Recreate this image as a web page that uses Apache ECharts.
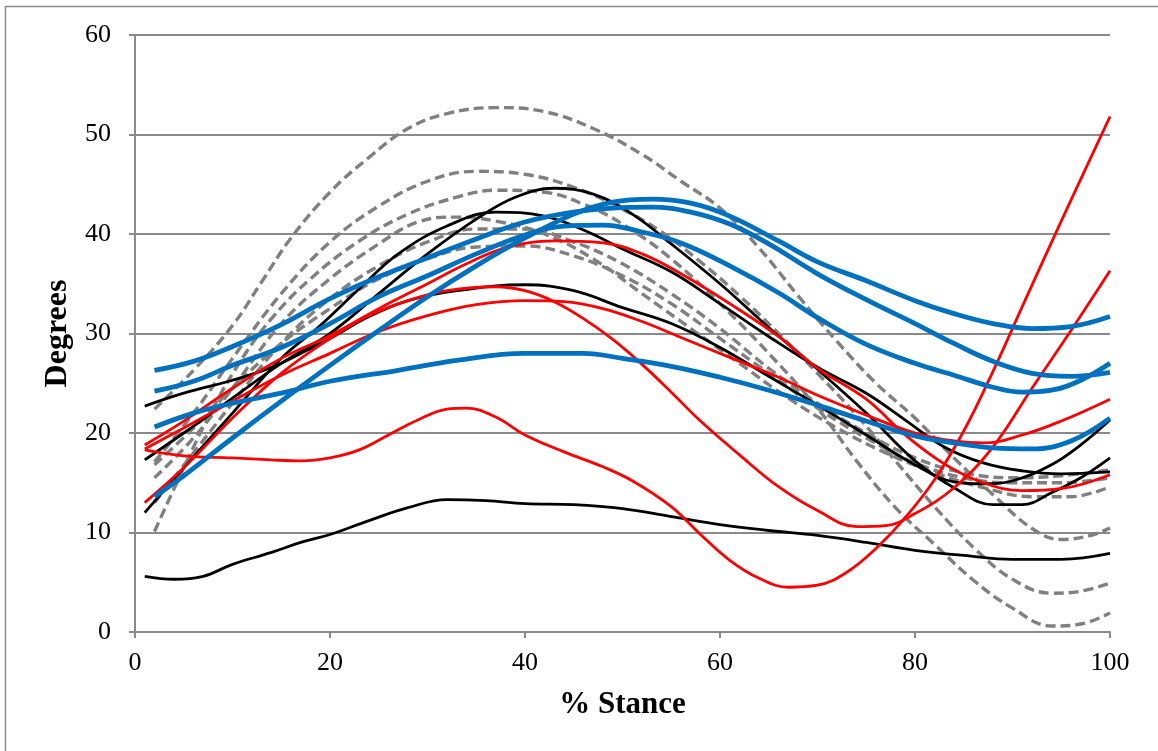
<!DOCTYPE html>
<html>
<head>
<meta charset="utf-8">
<script src="https://cdn.jsdelivr.net/npm/echarts@6/dist/echarts.min.js"></script>
<style>
html,body{margin:0;padding:0;background:#fff;}
#chart{width:1158px;height:751px;}
</style>
</head>
<body>
<div id="chart"></div>
<script>
// ---- axis ticks ----
const xTicks = [0, 20, 40, 60, 80, 100];
const yTicks = [0, 10, 20, 30, 40, 50, 60];

// ---- gray dashed series: [% stance, degrees] ----
const gray1 = [[2,22.4],[6,26.3],[10,30.8],[13,35.2],[16,39.6],[20,44.2],[24,47.7],[28,50.6],[32,52.1],[37,52.7],[42,52.3],[47,50.6],[52,48],[56,45.3],[60,42.6],[64,38.6],[68,33.8],[72,29.2],[76,25],[80,21.5],[84,17.5],[88,13.8],[92,10.4],[95,9.3],[98,9.7],[100,10.45]];
const gray2 = [[2,17.1],[6,22],[10,27.5],[15,34],[20,39.2],[25,42.8],[30,45.3],[35,46.3],[40,46],[45,44.7],[50,42.5],[54,40.2],[58,37.2],[62,33.8],[66,30],[70,26],[74,21.8],[78,17.2],[82,12.6],[86,8.5],[90,5.3],[94,3.9],[97,4.1],[100,4.9]];
const gray3 = [[2,10.1],[5,16.5],[8,22.5],[11,27.5],[14,31.5],[18,35.5],[23,39.3],[28,42],[33,43.7],[37,44.4],[42,44.2],[46,43],[50,41],[55,37.5],[60,33],[65,28],[70,22.5],[74,17.2],[78,12.5],[82,8.8],[86,5.2],[90,2.4],[94,0.6],[97,0.8],[100,1.9]];
const gray4 = [[2,15.5],[6,19.5],[10,24.5],[15,31],[20,35.5],[25,39],[29,41.2],[33,41.7],[37,41.3],[42,40],[47,37.5],[52,34],[57,30.5],[62,27],[67,23.5],[72,20.5],[77,18],[82,16],[87,14.5],[92,13.6],[96,13.6],[100,14.6]];
const gray5 = [[2,13],[6,18],[10,23],[15,29],[20,33.5],[25,36.8],[30,39.2],[35,40.5],[40,40.5],[45,39.2],[50,37],[55,34],[60,30.5],[65,26.5],[70,23],[75,20],[80,17.5],[85,16],[90,15.5],[95,15.7],[100,16.3]];
const gray6 = [[2,16.8],[6,20.5],[10,24.5],[15,29],[20,32.5],[25,35.5],[30,37.5],[35,38.7],[40,38.8],[45,37.8],[50,35.8],[55,33],[60,29.5],[65,26],[70,22.5],[75,19.5],[80,17],[85,15.5],[90,15],[95,15],[100,15.5]];

// ---- black series ----
const black1 = [[1,5.6],[4,5.3],[7,5.6],[10,6.8],[14,8],[17,9],[20,9.8],[24,11.2],[28,12.5],[32,13.3],[36,13.2],[40,12.9],[45,12.8],[50,12.4],[55,11.6],[60,10.8],[65,10.2],[70,9.7],[75,9],[80,8.2],[85,7.7],[90,7.3],[95,7.3],[100,7.9]];
const black2 = [[1,12],[5,16.5],[10,22],[15,27.5],[19,30.8],[23,34.5],[27,38],[32,40.8],[37,42.2],[42,41.8],[46,40.4],[50,38.5],[55,36.2],[60,33],[65,29.7],[70,26.6],[75,24],[79,21.3],[83,18.6],[87,17],[91,16.2],[95,15.9],[100,16.1]];
const black3 = [[1,17.3],[5,20],[10,23.5],[15,27],[20,30],[25,34],[30,38],[35,41.5],[39,43.7],[43,44.6],[47,44],[51,42],[55,39],[60,35],[65,30.6],[70,26.4],[75,22],[80,17.2],[84,14.5],[88,12.8],[91,12.8],[94,14],[97,15.5],[100,17.5]];
const black4 = [[1,22.7],[5,24],[10,25.3],[14,26.6],[17,28],[20,29.5],[24,31.7],[28,33.3],[33,34.3],[40,34.9],[45,34.3],[50,32.6],[55,31],[60,28.6],[65,25.7],[70,22.8],[75,19.8],[80,16.8],[84,15.1],[87,14.9],[90,15.2],[94,16.8],[97,18.8],[100,21.3]];

// ---- red series ----
const red1 = [[1,18.8],[5,21.2],[10,24.5],[15,27.5],[20,29.8],[25,32.5],[30,35],[34,37],[38,38.6],[43,39.3],[48,39.1],[52,38],[56,36],[61,33],[66,29.7],[70,26.5],[75,23.4],[79,19.8],[83,16.9],[87,15],[91,14.2],[95,14.4],[100,15.8]];
const red2 = [[1,13],[5,16.5],[10,21.5],[15,26],[20,29.5],[24,31.8],[28,33.3],[32,34.3],[37,34.7],[40,34.3],[43,33.2],[46,31.5],[49,29.4],[52,26.9],[55,24.1],[58,21.2],[62,17.8],[66,14.6],[70,12.2],[74,10.6],[77,10.7],[80,11.9],[84,14.5],[88,18.6],[92,24.5],[96,30.3],[100,36.3]];
const red3 = [[1,18.4],[5,20.5],[10,23.2],[15,25.8],[20,28],[25,30.2],[30,31.8],[35,32.9],[40,33.3],[44,33.2],[48,32.5],[52,31.2],[56,29.6],[61,27.6],[66,25.6],[70,23.8],[75,21.8],[80,20],[84,19.2],[87,19],[91,19.8],[95,21.2],[100,23.4]];
const red4 = [[1,18.3],[5,17.7],[10,17.5],[14,17.3],[17,17.2],[20,17.5],[23,18.3],[26,19.8],[29,21.3],[32,22.4],[34,22.5],[37,21.6],[40,19.8],[44,18.1],[48,16.6],[51,15.2],[55,12.6],[58,9.8],[61,7.2],[64,5.4],[67,4.5],[70,4.7],[73,6],[76,8.4],[79,11.5],[82,15.3],[85,20.2],[88,26.2],[91,32.7],[95,41.3],[100,51.8]];

// ---- blue series ----
const blue1 = [[2,26.3],[6,27.2],[10,28.7],[15,30.9],[20,33.5],[25,35.7],[30,37.6],[35,39.5],[40,41.2],[45,42.2],[49,42.6],[53,42.7],[57,42.2],[61,41],[65,39],[70,36],[75,33.4],[80,31],[84,29],[88,27.2],[92,26],[96,25.7],[100,26.1]];
const blue2 = [[2,24.2],[6,25.2],[10,26.8],[15,28.6],[20,31],[25,33.7],[30,35.8],[35,38],[40,39.9],[44,40.8],[48,40.9],[52,40.2],[56,39.1],[61,36.8],[66,34.1],[70,31.6],[75,28.9],[80,27],[84,25.8],[88,24.6],[91,24.1],[94,24.3],[97,25.3],[100,27]];
const blue3 = [[2,20.6],[6,22],[10,23],[15,24],[20,25.2],[27,26.3],[33,27.3],[40,28],[46,28],[50,27.5],[55,26.7],[60,25.6],[65,24.3],[70,22.8],[75,21.2],[80,19.7],[84,19],[88,18.5],[92,18.4],[96,19.2],[100,21.5]];
const blue4 = [[2,13.6],[5,15.7],[10,19.5],[15,23.2],[20,26.8],[25,30.3],[30,33.7],[35,36.8],[40,39.6],[45,42],[49,43.2],[53,43.5],[57,43.1],[61,41.8],[66,39.3],[70,37.2],[75,35.3],[80,33.3],[84,32],[88,31],[92,30.5],[96,30.7],[100,31.7]];

const grays = [gray1, gray2, gray3, gray4, gray5, gray6];
const blacks = [black1, black2, black3, black4];
const reds = [red1, red2, red3, red4];
const blues = [blue1, blue2, blue3, blue4];

const series = [];
function add(list, color, width, type) {
  list.forEach(d => series.push({
    type: 'line', data: d, smooth: 0.4, symbol: 'none', silent: true,
    lineStyle: {color: color, width: width, type: type, cap: 'butt'}
  }));
}
add(grays, '#808080', 3.4, [10, 5]);
add(blacks, '#000000', 2.8, 'solid');
add(reds, '#ff0000', 2.8, 'solid');
add(blues, '#0070c0', 4.8, 'solid');

const axisGray = '#8a8a8a';
const serif = 'Liberation Serif';
const chart = echarts.init(document.getElementById('chart'), null, {renderer: 'canvas'});
chart.setOption({
  animation: false,
  backgroundColor: '#fff',
  grid: {left: 135, right: 48, top: 35, bottom: 119, containLabel: false},
  graphic: [{
    type: 'rect', left: 3, top: 4, silent: true,
    shape: {width: 1170, height: 760},
    style: {fill: 'none', stroke: '#8a8a8a', lineWidth: 1.5}
  }],
  xAxis: {
    type: 'value', min: xTicks[0], max: xTicks[xTicks.length - 1], interval: 20,
    name: '% Stance', nameLocation: 'middle', nameGap: 57,
    nameTextStyle: {fontFamily: serif, fontSize: 31, fontWeight: 'bold', color: '#000'},
    axisLine: {show: true, lineStyle: {color: axisGray, width: 2}},
    axisTick: {show: true, length: 6, lineStyle: {color: axisGray, width: 2}},
    axisLabel: {fontFamily: serif, fontSize: 26, color: '#000', margin: 18},
    splitLine: {show: false}
  },
  yAxis: {
    type: 'value', min: yTicks[0], max: yTicks[yTicks.length - 1], interval: 10,
    name: 'Degrees', nameLocation: 'middle', nameGap: 57, nameRotate: 90,
    nameTextStyle: {fontFamily: serif, fontSize: 32, fontWeight: 'bold', color: '#000'},
    axisLine: {show: true, lineStyle: {color: axisGray, width: 2}},
    axisTick: {show: true, length: 6, lineStyle: {color: axisGray, width: 2}},
    axisLabel: {fontFamily: serif, fontSize: 26, color: '#000', margin: 24},
    splitLine: {show: true, lineStyle: {color: axisGray, width: 2}}
  },
  series: series
});
</script>
</body>
</html>
